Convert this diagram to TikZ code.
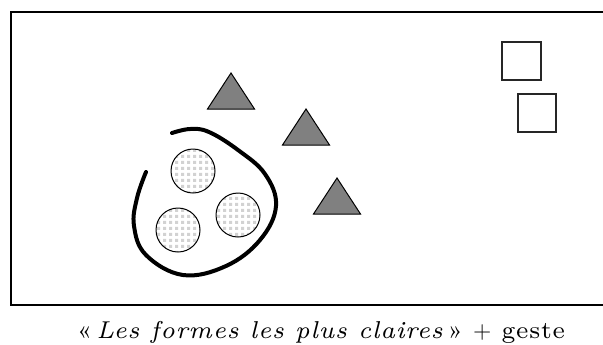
\documentclass[tikz,border=0pt]{standalone}
\usepackage{fontspec}
\usepackage{xcolor}
\usetikzlibrary{patterns.meta}
\newfontfamily\capfont{lmroman7-regular.otf}[ItalicFont=lmroman7-italic.otf, LetterSpace=3]
\definecolor{trianc}{HTML}{808080}
\definecolor{gridc}{HTML}{D2D2D2}
\tikzdeclarepattern{
  name=lightgrid,
  type=uncolored,
  bounding box={(0pt,0pt) and (3pt,3pt)},
  tile size={(3pt,3pt)},
  code={\fill (0.6pt,0.6pt) rectangle (2.4pt,2.4pt);}
}

\begin{document}
\begin{tikzpicture}[x=0.5pt, y=-0.5pt, font=\fontsize{12.2}{14}\selectfont,
    tri/.style={draw=black, line width=0.5pt, fill=trianc},
    sqbox/.style={draw=black!85, line width=0.6pt},
    disc/.style={draw=black, line width=0.5pt, pattern=lightgrid, pattern color=gridc}]
  \useasboundingbox (0,0) rectangle (603,344);
  % frame, open on the right
  \draw[line width=0.6pt] (603,12) -- (11,12) -- (11,305) -- (603,305);
  % dark triangles
  \foreach \x/\y in {231/73, 306/109, 337/178}
     \draw[tri] (\x,\y) -- ++(-23.5,36) -- ++(47,0) -- cycle;
  % white squares
  \draw[sqbox] (502,42) rectangle ++(39,38);
  \draw[sqbox] (518,94) rectangle ++(38,38);
  % light discs
  \foreach \x/\y in {193/171, 178/230, 238/215}
     \draw[disc] (\x,\y) circle[radius=22];
  % the gesture
  \draw[line width=2pt, line cap=round] plot[smooth, tension=0.65] coordinates {
     (146,172) (137,198) (134,226) (146,255) (183,275) (226,266)
     (260,240) (276,206) (265,174) (238,150) (209,132) (190,129) (172,133)};
  \node[anchor=base] (caption) at (321,338)
     {\capfont«\,\textit{Les formes les plus claires}\,» $+$ geste};
\end{tikzpicture}
\end{document}
